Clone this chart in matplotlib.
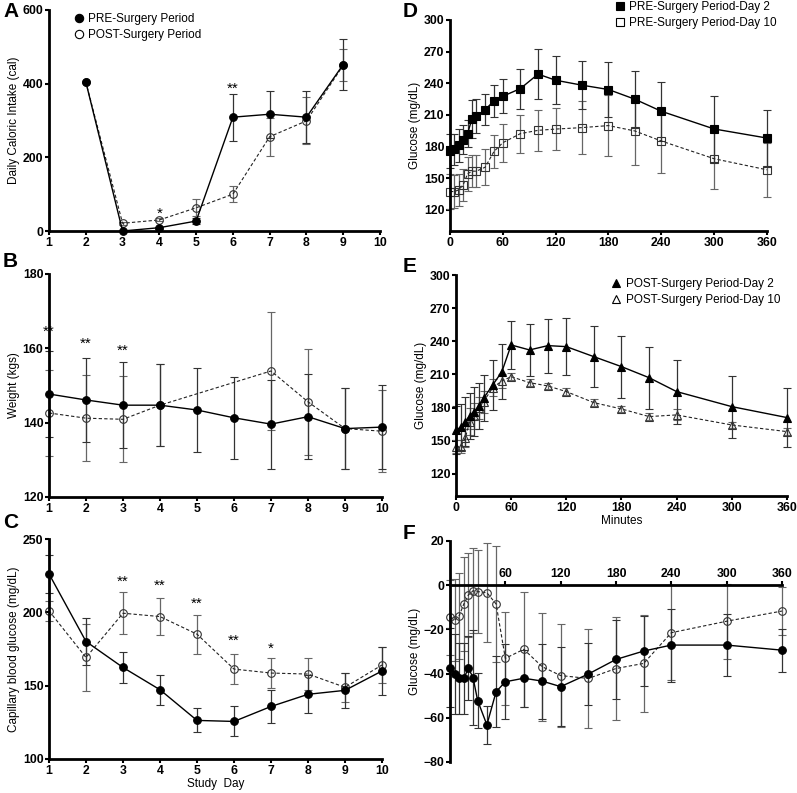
import matplotlib
matplotlib.use("Agg")
import matplotlib.pyplot as plt
from matplotlib.lines import Line2D

plt.rcParams['font.family'] = ['Liberation Sans', 'DejaVu Sans']

# ---- panel A: daily caloric intake ----
cal_days = [2, 3, 4, 5, 6, 7, 8, 9]
cal_pre = [405, 0, 9, 27, 309, 317, 309, 452]
cal_pre_err = [0, 0, 3, 8, 64, 64, 71, 70]
cal_post = [405, 21, 30, 63, 100, 256, 299, 450]
cal_post_err = [0, 4, 4, 23, 22, 52, 64, 43]
cal_stars = [(4, 57, '*'), (6, 396, '**')]

# ---- panel B: weight ----
days = [1, 2, 3, 4, 5, 6, 7, 8, 9, 10]
wt_pre = [147.7, 146.1, 144.7, 144.7, 143.4, 141.3, 139.6, 141.6, 138.4, 138.8]
wt_pre_err = [11.5, 11.4, 11.5, 11.0, 11.2, 11.1, 12.0, 11.5, 11.0, 11.2]
wt_post_days = [1, 2, 3, 4, 7, 8, 9, 10]
wt_post = [142.6, 141.2, 140.9, 144.7, 153.9, 145.6, 138.4, 137.7]
wt_post_err = [11.5, 11.6, 11.6, 11.0, 15.8, 14.3, 11.0, 11.0]
wt_stars = [(1, 165.4, '**'), (2, 162.1, '**'), (3, 160.3, '**')]

# ---- panel C: capillary blood glucose ----
cbg_pre = [226.2, 180.1, 162.4, 147.2, 126.3, 125.6, 135.8, 144.1, 146.8, 160.0]
cbg_pre_err = [13, 16, 10.6, 10.2, 8.2, 10.2, 11.5, 13, 12, 16.5]
cbg_post = [201.0, 169.2, 199.4, 197.1, 185.1, 161.3, 158.6, 157.9, 148.9, 164.1]
cbg_post_err = [7, 23, 14.5, 12.6, 13.3, 10.5, 10.5, 11, 10, 12]
cbg_stars = [(3, 223.2, '**'), (4, 220.3, '**'), (5, 208, '**'), (6, 182.8, '**'), (7, 177.8, '*')]

# ---- panels D-F: meal test, minutes ----
minutes = [0, 5, 10, 15, 20, 25, 30, 40, 50, 60, 80, 100, 120, 150, 180, 210, 240, 300, 360]
pre_d2 = [175.7, 177.3, 181.1, 186.6, 192.3, 206.5, 208.7, 215.1, 223.3, 227.7, 235.0, 248.7,
          242.9, 238.2, 234.1, 224.9, 213.5, 196.7, 188.1]
pre_d2_err = [16, 15, 16, 14, 13, 18, 16, 15, 15, 16, 19, 23.5, 22.5, 22.8, 26, 27, 28, 31.5, 27]
pre_d10 = [137.4, 137.4, 139.0, 143.8, 154.2, 156.7, 156.7, 160.5, 175.4, 183.7, 192.3, 195.4,
           196.6, 198.0, 199.9, 194.8, 185.3, 168.5, 158.0]
pre_d10_err = [17, 16, 15, 15, 16, 15, 15, 17, 16, 18, 18, 19.5, 20, 25, 29, 32, 30, 28.5, 25.5]

post_d2 = [159.8, 162.2, 167.3, 172.5, 176.4, 181.5, 188.5, 200.5, 212.6, 236.7, 232.2, 236.1,
           235.2, 226.1, 217.1, 207.1, 194.5, 180.9, 171.0]
post_d2_err = [22, 21, 22, 20.5, 22, 21, 21, 23, 25, 22, 23.5, 24.5, 25.5, 27.5, 28, 28, 29, 28, 26.5]
post_d10 = [144.7, 144.7, 152.3, 167.3, 172.5, 180.0, 185.4, 198.1, 204.1, 208.0, 202.6, 199.6,
            194.5, 184.5, 178.8, 171.9, 173.4, 164.3, 158.3]
post_d10_err = [6, 6, 8, 12, 12, 10, 10, 8, 6, 3, 3, 3, 3, 3, 3, 3, 5, 3, 3]

diff_d2 = [-37.3, -40.2, -42.1, -42.1, -37.6, -41.8, -52.2, -63.2, -48.2, -43.7, -42.1, -43.4,
           -45.9, -40.2, -33.6, -29.8, -27.1, -27.1, -29.4]
diff_d2_err = [18, 18, 16, 16, 14.5, 21.5, 12.6, 8.5, 16, 17, 13, 17, 18, 14, 17.9, 16, 16.5, 14, 9.8]
diff_d10 = [-14.5, -15.8, -13.8, -8.5, -4.4, -2.5, -2.9, -3.4, -8.5, -33.1, -29.0, -36.9,
            -40.9, -42.2, -37.7, -35.4, -21.5, -16.3, -11.7]
diff_d10_err = [17, 18.5, 19.4, 21.4, 19.1, 19.2, 18.8, 22.4, 26.4, 21, 26, 24.5, 23.4, 22.6,
                23.3, 22, 21.5, 17, 11]

DASH = (0, (3, 2))


def style(ax, xticks, yticks):
    ax.spines['top'].set_visible(False)
    ax.spines['right'].set_visible(False)
    ax.spines['left'].set_linewidth(2)
    ax.spines['bottom'].set_linewidth(2)
    ax.set_xticks(xticks)
    ax.set_yticks(yticks)
    ax.tick_params(width=1.5, length=3, labelsize=8.8, pad=1)
    for lab in ax.get_xticklabels() + ax.get_yticklabels():
        lab.set_fontweight('bold')


def series(ax, x, y, err, marker, filled, ms=5.5):
    if filled:
        kw = dict(color='black', mfc='black', mec='black', ls='-', lw=1, ecolor='#333333')
    else:
        kw = dict(color='#222222', mfc='none', mec='#333333', ls=DASH, lw=0.8, ecolor='#666666')
    line, caps, bars = ax.errorbar(x, y, yerr=err, marker=marker, ms=ms, mew=0.8,
                                   capsize=3, elinewidth=0.9, capthick=0.9, **kw)
    line.set_clip_on(False)
    for c in caps:
        c.set_clip_on(False)
    for b in bars:
        b.set_clip_on(False)


def stars(ax, items):
    for x, y, s in items:
        ax.annotate(s, (x, y), xytext=(0, -5.5), textcoords='offset points',
                    ha='center', va='baseline', fontsize=11)


def legend(ax, specs, anchor):
    handles = [Line2D([], [], ls='none', marker=m, ms=6, mfc=fc, mec='black', mew=0.8, color='black')
               for m, fc, _ in specs]
    ax.legend(handles, [t for _, _, t in specs], loc='upper left', bbox_to_anchor=anchor,
              frameon=False, fontsize=8.5, handlelength=0.8, handletextpad=0.4,
              borderpad=0, borderaxespad=0, labelspacing=0.3)


fig = plt.figure(figsize=(7.97, 7.93), dpi=100)

# A
axA = fig.add_axes([0.0615, 0.7087, 0.4153, 0.2787])
series(axA, cal_days, cal_post, cal_post_err, 'o', False)
series(axA, cal_days, cal_pre, cal_pre_err, 'o', True)
axA.set_xlim(1, 10)
axA.set_ylim(0, 600)
style(axA, days, [0, 200, 400, 600])
axA.set_ylabel('Daily Caloric Intake (cal)', fontsize=8.5, labelpad=2)
stars(axA, cal_stars)
legend(axA, [('o', 'black', 'PRE-Surgery Period'), ('o', 'none', 'POST-Surgery Period')],
       (0.075, 0.985))

# B
axB = fig.add_axes([0.0615, 0.3733, 0.4178, 0.2812])
series(axB, wt_post_days, wt_post, wt_post_err, 'o', False)
series(axB, days, wt_pre, wt_pre_err, 'o', True)
axB.set_xlim(1, 10)
axB.set_ylim(120, 180)
style(axB, days, [120, 140, 160, 180])
axB.set_ylabel('Weight (kgs)', fontsize=8.5, labelpad=2)
stars(axB, wt_stars)

# C
axC = fig.add_axes([0.0615, 0.0429, 0.4178, 0.2774])
series(axC, days, cbg_post, cbg_post_err, 'o', False)
series(axC, days, cbg_pre, cbg_pre_err, 'o', True)
axC.set_xlim(1, 10)
axC.set_ylim(100, 250)
style(axC, days, [100, 150, 200, 250])
axC.set_ylabel('Capillary blood glucose (mg/dL)', fontsize=8.5, labelpad=2)
axC.set_xlabel('Study  Day', fontsize=8.5, labelpad=1)
stars(axC, cbg_stars)

# D
axD = fig.add_axes([0.5646, 0.7087, 0.3977, 0.2661])
series(axD, minutes, pre_d10, pre_d10_err, 's', False)
series(axD, minutes, pre_d2, pre_d2_err, 's', True)
axD.set_xlim(0, 360)
axD.set_ylim(100, 300)
style(axD, range(0, 361, 60), range(120, 301, 30))
axD.set_ylabel('Glucose (mg/dL)', fontsize=8.5, labelpad=2)
legend(axD, [('s', 'black', 'PRE-Surgery Period-Day 2'), ('s', 'none', 'PRE-Surgery Period-Day 10')],
       (0.52, 1.088))

# E
axE = fig.add_axes([0.5721, 0.3745, 0.4153, 0.2787])
series(axE, minutes, post_d10, post_d10_err, '^', False)
series(axE, minutes, post_d2, post_d2_err, '^', True)
axE.set_xlim(0, 360)
axE.set_ylim(100, 300)
style(axE, range(0, 361, 60), range(120, 301, 30))
axE.set_ylabel('Glucose (mg/dL)', fontsize=8.5, labelpad=2)
axE.set_xlabel('Minutes', fontsize=8.5, labelpad=1)
legend(axE, [('^', 'black', 'POST-Surgery Period-Day 2'), ('^', 'none', 'POST-Surgery Period-Day 10')],
       (0.47, 0.985))

# F
axF = fig.add_axes([0.5646, 0.0391, 0.4166, 0.2787])
series(axF, minutes, diff_d10, diff_d10_err, 'o', False)
series(axF, minutes, diff_d2, diff_d2_err, 'o', True)
axF.set_xlim(0, 360)
axF.set_ylim(-80, 20)
style(axF, range(60, 361, 60), range(-80, 21, 20))
axF.spines['bottom'].set_visible(False)
axF.spines['top'].set_visible(True)
axF.spines['top'].set_linewidth(2)
axF.spines['top'].set_position(('data', 0))
axF.xaxis.tick_top()
for lab in axF.get_xticklabels():
    lab.set_fontweight('bold')
axF.set_ylabel('Glucose (mg/dL)', fontsize=8.5, labelpad=2)

# panel letters
for letter, x, y in [('A', 3, 2), ('B', 3, 252), ('C', 3, 513), ('D', 403, 2), ('E', 403, 257), ('F', 403, 524)]:
    fig.text(x / 797, 1 - y / 793, letter, fontsize=15, fontweight='bold', va='top', ha='left')

fig.savefig('out.png', dpi=100)
